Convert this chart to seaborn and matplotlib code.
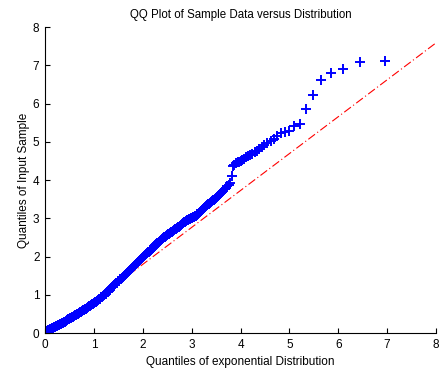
import matplotlib
matplotlib.use("Agg")
import matplotlib.pyplot as plt
import seaborn as sns
import pandas as pd

# Theoretical (exponential) quantiles and sample quantiles
theoretical_q = [
    0.00, 0.02, 0.04, 0.06, 0.08, 0.10, 0.12, 0.14, 0.16, 0.18, 0.20, 0.22,
    0.24, 0.26, 0.28, 0.30, 0.32, 0.34, 0.36, 0.38, 0.40, 0.42, 0.44, 0.46,
    0.48, 0.50, 0.52, 0.54, 0.56, 0.58, 0.60, 0.62, 0.64, 0.66, 0.68, 0.70,
    0.72, 0.74, 0.76, 0.78, 0.80, 0.82, 0.84, 0.86, 0.88, 0.90, 0.92, 0.94,
    0.96, 0.98, 1.00, 1.02, 1.04, 1.06, 1.08, 1.10, 1.12, 1.14, 1.16, 1.18,
    1.20, 1.22, 1.24, 1.26, 1.28, 1.30, 1.32, 1.34, 1.36, 1.38, 1.40, 1.42,
    1.44, 1.46, 1.48, 1.50, 1.52, 1.54, 1.56, 1.58, 1.60, 1.62, 1.64, 1.66,
    1.68, 1.70, 1.72, 1.74, 1.76, 1.78, 1.80, 1.82, 1.84, 1.86, 1.88, 1.90,
    1.92, 1.94, 1.96, 1.98, 2.00, 2.02, 2.04, 2.06, 2.08, 2.10, 2.12, 2.14,
    2.16, 2.18, 2.20, 2.22, 2.24, 2.26, 2.28, 2.30, 2.32, 2.34, 2.36, 2.38,
    2.40, 2.42, 2.44, 2.46, 2.48, 2.50, 2.52, 2.54, 2.56, 2.58, 2.60, 2.62,
    2.64, 2.66, 2.68, 2.70, 2.72, 2.74, 2.76, 2.78, 2.80, 2.82, 2.84, 2.86,
    2.88, 2.90, 2.92, 2.94, 2.96, 2.98, 3.00, 3.02, 3.04, 3.06, 3.08, 3.10,
    3.12, 3.14, 3.16, 3.18, 3.20, 3.22, 3.24, 3.26, 3.28, 3.30, 3.32, 3.34,
    3.36, 3.38, 3.40, 3.42, 3.44, 3.46, 3.48, 3.50, 3.52, 3.54, 3.56, 3.58,
    3.60, 3.62, 3.64,
    3.68, 3.71, 3.73, 3.76, 3.79, 3.82, 3.84, 3.87, 3.91, 3.94, 3.97, 4.01,
    4.04, 4.08, 4.12, 4.16, 4.20, 4.24, 4.29, 4.33, 4.38, 4.44, 4.49, 4.55,
    4.62, 4.68, 4.75, 4.83, 4.91, 5.00, 5.10, 5.22, 5.34, 5.48, 5.65, 5.85,
    6.10, 6.44, 6.95,
]
sample_q = [
    0.04, 0.05, 0.06, 0.07, 0.08, 0.10, 0.11, 0.12, 0.13, 0.15, 0.16, 0.18,
    0.19, 0.20, 0.21, 0.23, 0.24, 0.26, 0.27, 0.29, 0.30, 0.32, 0.33, 0.35,
    0.36, 0.37, 0.38, 0.40, 0.41, 0.43, 0.44, 0.46, 0.47, 0.49, 0.50, 0.52,
    0.54, 0.56, 0.57, 0.59, 0.61, 0.63, 0.64, 0.66, 0.68, 0.70, 0.71, 0.73,
    0.75, 0.77, 0.79, 0.81, 0.82, 0.84, 0.86, 0.88, 0.90, 0.93, 0.95, 0.97,
    0.99, 1.01, 1.03, 1.06, 1.08, 1.10, 1.12, 1.15, 1.17, 1.20, 1.22, 1.25,
    1.27, 1.30, 1.32, 1.35, 1.37, 1.40, 1.42, 1.45, 1.47, 1.50, 1.52, 1.55,
    1.57, 1.60, 1.62, 1.65, 1.67, 1.70, 1.72, 1.75, 1.78, 1.81, 1.83, 1.86,
    1.89, 1.92, 1.94, 1.97, 1.99, 2.02, 2.04, 2.07, 2.09, 2.11, 2.13, 2.15,
    2.17, 2.20, 2.22, 2.25, 2.27, 2.30, 2.32, 2.34, 2.36, 2.39, 2.41, 2.44,
    2.46, 2.48, 2.50, 2.52, 2.54, 2.56, 2.58, 2.60, 2.61, 2.63, 2.65, 2.67,
    2.69, 2.71, 2.72, 2.74, 2.76, 2.78, 2.80, 2.83, 2.85, 2.87, 2.89, 2.91,
    2.93, 2.95, 2.96, 2.98, 2.99, 3.00, 3.01, 3.03, 3.04, 3.06, 3.07, 3.09,
    3.10, 3.12, 3.14, 3.17, 3.19, 3.22, 3.24, 3.27, 3.29, 3.32, 3.34, 3.36,
    3.38, 3.41, 3.43, 3.45, 3.47, 3.49, 3.51, 3.54, 3.56, 3.59, 3.61, 3.64,
    3.66, 3.69, 3.71,
    3.76, 3.80, 3.84, 3.88, 3.93, 4.11, 4.36, 4.40, 4.44, 4.46, 4.48, 4.50,
    4.53, 4.56, 4.59, 4.62, 4.66, 4.69, 4.74, 4.77, 4.81, 4.86, 4.91, 4.96,
    5.01, 5.06, 5.16, 5.22, 5.25, 5.27, 5.42, 5.46, 5.86, 6.21, 6.61, 6.81,
    6.91, 7.08, 7.10,
]

# Reference line (through the quartiles)
ref_slope = 0.965
ref_intercept = -0.135
ref_x_range = [0.0, 8.05]

x_ticks = [0, 1, 2, 3, 4, 5, 6, 7, 8]
y_ticks = [0, 1, 2, 3, 4, 5, 6, 7, 8]

title = "QQ Plot of Sample Data versus Distribution"
x_label = "Quantiles of exponential Distribution"
y_label = "Quantiles of Input Sample"

sns.set_theme(style="white")
plt.rcParams["font.family"] = ["Liberation Sans", "DejaVu Sans"]
plt.rcParams["lines.scale_dashes"] = False

fig = plt.figure(figsize=(4.43, 3.70), dpi=100)
ax = fig.add_axes([0.1016, 0.10, 0.8826, 0.827])

df = pd.DataFrame({"theoretical": theoretical_q, "sample": sample_q})

ref_df = pd.DataFrame({
    "x": ref_x_range,
    "y": [ref_intercept + ref_slope * v for v in ref_x_range],
})
sns.lineplot(data=ref_df, x="x", y="y", ax=ax, color=(1, 0, 0),
             linewidth=0.8, dashes=False, zorder=1)
ax.lines[-1].set_dashes([6.0, 2.0, 0.8, 2.0])

sns.scatterplot(data=df, x="theoretical", y="sample", ax=ax, marker="+",
                color=(0, 0, 1), s=44, linewidth=1.4, zorder=2)

ax.set_xlim(0, 8)
ax.set_ylim(0, 8)
ax.set_xticks(x_ticks)
ax.set_yticks(y_ticks)
ax.set_xticklabels([str(t) for t in x_ticks])
ax.set_yticklabels([str(t) for t in y_ticks])

for side in ["top", "right"]:
    ax.spines[side].set_visible(False)
for side in ["left", "bottom"]:
    ax.spines[side].set_color("black")
    ax.spines[side].set_linewidth(0.8)

ax.tick_params(axis="both", direction="in", length=3.5, width=0.8,
               color="black", labelsize=8.5, labelcolor="black", pad=4,
               bottom=True, left=True)

ax.set_title(title, fontsize=8.3, color="black", pad=6.5)
ax.set_xlabel(x_label, fontsize=8.5, color="black", labelpad=4)
ax.set_ylabel(y_label, fontsize=8.5, color="black", labelpad=2.2)

fig.savefig("out.png", dpi=100)
